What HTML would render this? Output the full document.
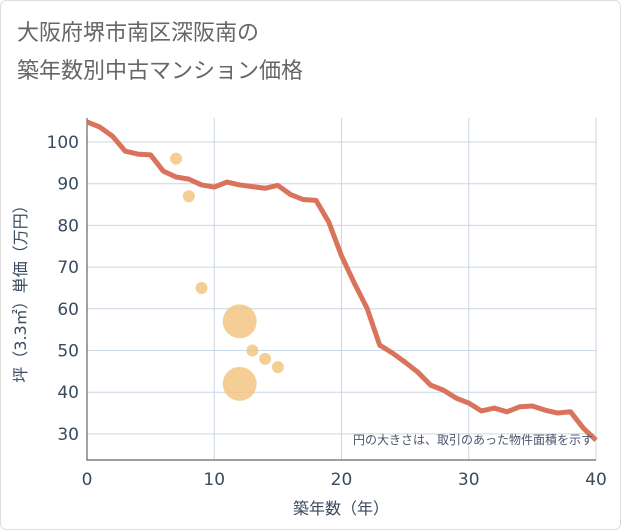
<!DOCTYPE html>
<html><head><meta charset="utf-8"><style>
html,body{margin:0;padding:0;background:#fff}
svg{display:block;font-family:"DejaVu Sans","Noto Sans CJK JP",sans-serif}
</style></head><body>
<svg id="chart" width="621" height="530">
<rect x="0.5" y="0.5" width="620" height="529" rx="6" fill="#fff" stroke="#ddd"/>
<text x="17" y="40" font-size="22" fill="#666" font-family="Noto Sans CJK JP, sans-serif">大阪府堺市南区深阪南の</text>
<text x="17" y="78" font-size="22" fill="#666" font-family="Noto Sans CJK JP, sans-serif">築年数別中古マンション価格</text>
<g id="grid"></g><g id="axes"></g><g id="bubbles"></g><g id="line"></g>
<text x="593" y="444" font-size="12" fill="#4a5568" text-anchor="end">円の大きさは、取引のあった物件面積を示す</text>
<text x="341" y="514" font-size="16" fill="#3a4a60" text-anchor="middle">築年数（年）</text>
<text transform="translate(26,290) rotate(-90)" font-size="16" fill="#3a4a60" text-anchor="middle">坪（3.3㎡）単価（万円）</text>
</svg>
<script>
const lineYears=[0,1,2,3,4,5,6,7,8,9,10,11,12,13,14,15,16,17,18,19,20,21,22,23,24,25,26,27,28,29,30,31,32,33,34,35,36,37,38,39,40];
const linePrices=[104.8,103.6,101.4,97.8,97.1,96.9,93,91.6,91.1,89.7,89.2,90.4,89.7,89.3,88.9,89.6,87.4,86.2,86,80.8,72.7,66.2,60.2,51.3,49.4,47.2,44.8,41.7,40.5,38.6,37.4,35.5,36.2,35.3,36.5,36.7,35.7,35,35.3,31.4,28.5];
const bubbleYears=[7,8,9,12,12,13,14,15];
const bubblePrices=[96,87,65,57,42,50,48,46];
const bubbleAreas=[1,1,1,8,8,1,1,1];
const xTicks=[0,10,20,30,40];
const yTicks=[30,40,50,60,70,80,90,100];
const X0=87,X1=596,YT=118,YB=460;
const xs=v=>X0+(v-0)*(X1-X0)/40;
const ys=v=>142+(100-v)*4.17;
const NS="http://www.w3.org/2000/svg";
function mk(tag,p,attrs){const e=document.createElementNS(NS,tag);for(const k in attrs)e.setAttribute(k,attrs[k]);p.appendChild(e);return e;}
const grid=document.getElementById('grid'),axes=document.getElementById('axes');
yTicks.forEach(t=>{
 const l=mk('line',grid,{x1:X0,x2:X1,y1:ys(t),y2:ys(t),stroke:'#c9d6e3','stroke-width':1});
 
 
 const tx=mk('text',axes,{x:X0-8,y:ys(t)+6,'font-size':17,fill:'#3a4a60','text-anchor':'end'});
 tx.textContent=t;
 
 
});
xTicks.forEach(t=>{
 const l=mk('line',grid,{x1:xs(t),x2:xs(t),y1:YT,y2:YB,stroke:'#c9d6e3','stroke-width':1});
 
 
 const tx=mk('text',axes,{x:xs(t),y:YB+25,'font-size':17,fill:'#3a4a60','text-anchor':'middle'});
 tx.textContent=t;
 
 
});
const ax=mk('path',axes,{d:`M${X0},${YT}V${YB}H${X1}`,fill:'none',stroke:'#666','stroke-width':1.2});


const bg=document.getElementById('bubbles');
bubbleYears.forEach((yr,i)=>{
 const c=mk('circle',bg,{cx:xs(yr),cy:ys(bubblePrices[i]),r:6*Math.sqrt(bubbleAreas[i]),fill:'#f3c27a','fill-opacity':0.8});
 
 
});
const d=lineYears.map((yr,i)=>(i?'L':'M')+xs(yr)+','+ys(linePrices[i])).join('');
const p=mk('path',document.getElementById('line'),{d:d,fill:'none',stroke:'#d9735c','stroke-width':5,'stroke-linejoin':'round'});


</script>
</body></html>
